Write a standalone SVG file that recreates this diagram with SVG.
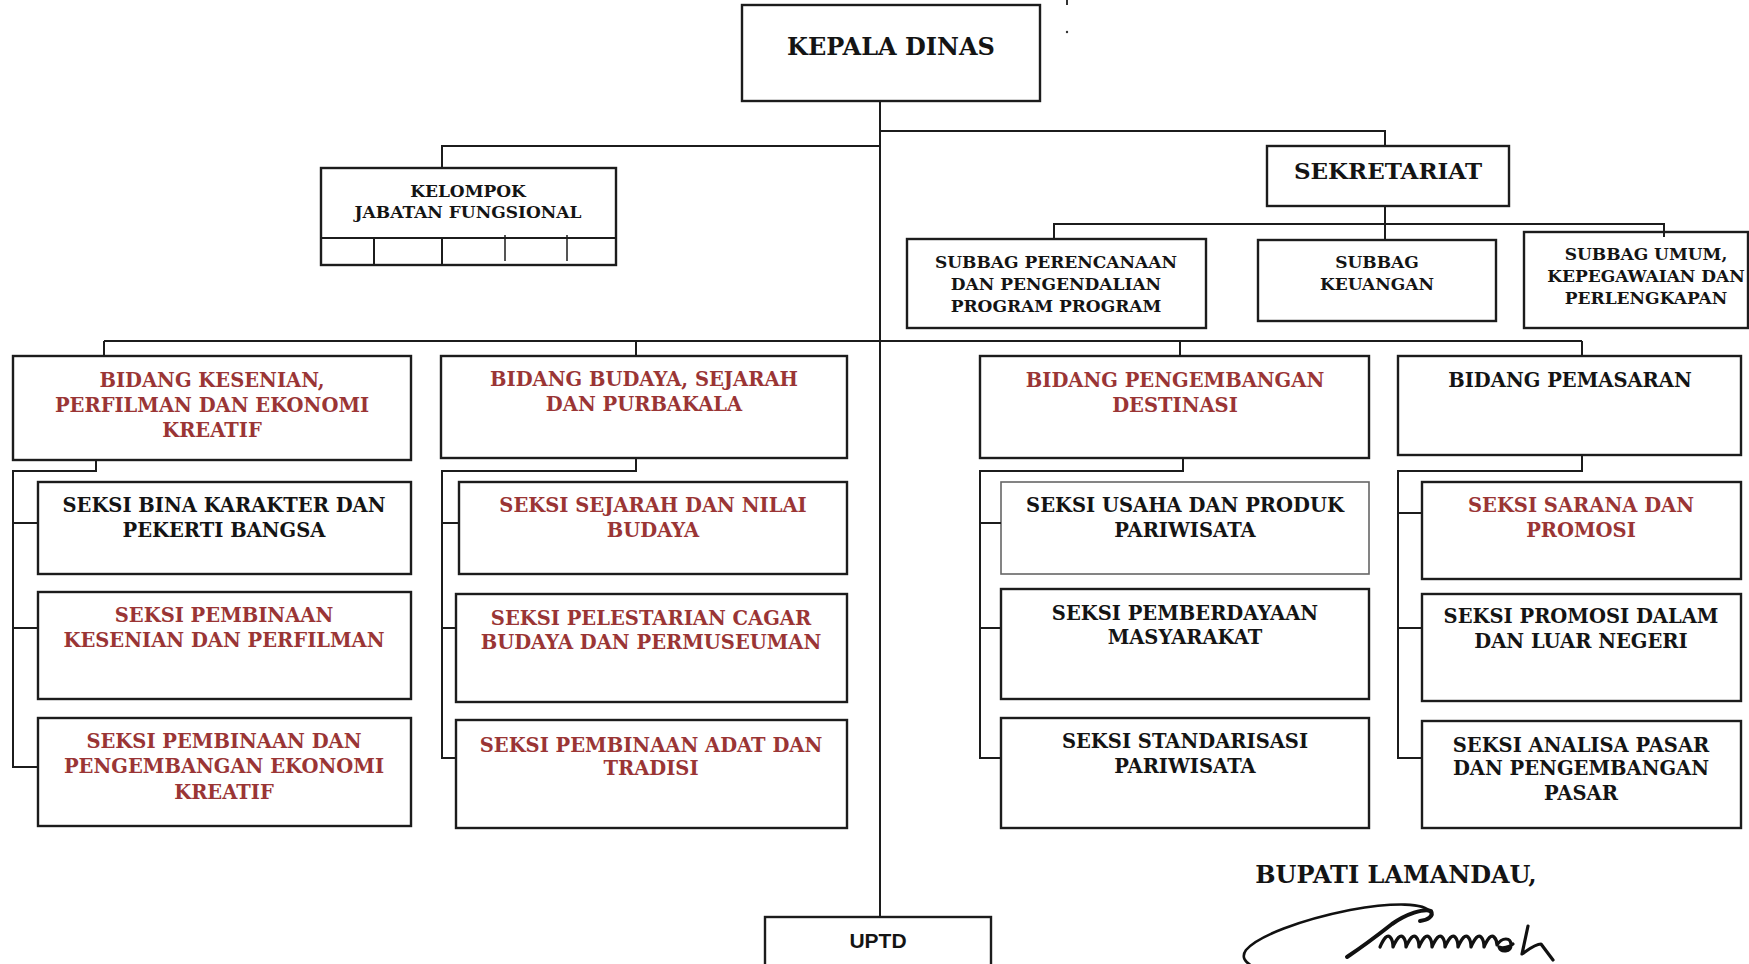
<svg xmlns="http://www.w3.org/2000/svg" width="1749" height="964" viewBox="0 0 1749 964">
  <style>
    .box { fill: #ffffff; stroke: #1c1c1c; stroke-width: 2.4; }
    .thin { fill: #ffffff; stroke: #666666; stroke-width: 1.6; }
    .ln { fill: none; stroke: #1c1c1c; stroke-width: 2; }
    .t { font-family: "DejaVu Serif", "Liberation Serif", serif; font-weight: bold; text-anchor: middle; }
    .s24 { font-size: 24px; }
    .s23 { font-size: 23px; }
    .s20 { font-size: 19.5px; }
    .s17 { font-size: 17px; }
    .red { fill: #9a3535; }
    .blk { fill: #141414; }
    .sans { font-family: "Liberation Sans", Arial, sans-serif; font-weight: bold; font-size: 21px; text-anchor: middle; fill: #141414; }
    .sig { fill: none; stroke: #111111; stroke-linecap: round; stroke-linejoin: round; }
  </style>
  <rect width="1749" height="964" fill="#ffffff"/>

  <!-- stray marks at the top edge -->
  <rect x="1066" y="0" width="2" height="5" fill="#333"/>
  <circle cx="1067" cy="32" r="1.2" fill="#333"/>

  <!-- top level -->
  <g id="kepala-dinas">
    <rect class="box" x="742" y="5" width="298" height="96"/>
    <text class="t s24 blk" x="891" y="55">KEPALA DINAS</text>
  </g>

  <g id="kelompok-jabatan-fungsional">
    <rect class="box" x="321" y="168" width="295" height="97"/>
    <line class="ln" x1="321" y1="238" x2="616" y2="238"/>
    <line class="ln" x1="374" y1="238" x2="374" y2="265"/>
    <line class="ln" x1="442" y1="238" x2="442" y2="265"/>
    <line class="ln" x1="505" y1="235" x2="505" y2="261" style="stroke-width:1.5"/>
    <line class="ln" x1="567" y1="235" x2="567" y2="261" style="stroke-width:1.5"/>
    <text class="t s17 blk" x="468" y="197">KELOMPOK</text>
    <text class="t s17 blk" x="468" y="218">JABATAN FUNGSIONAL</text>
  </g>

  <g id="sekretariat">
    <rect class="box" x="1267" y="146" width="242" height="60"/>
    <text class="t s23 blk" x="1388" y="179">SEKRETARIAT</text>
  </g>

  <g id="subbag-perencanaan">
    <rect class="box" x="907" y="239" width="299" height="89"/>
    <text class="t s17 blk" x="1056" y="268">SUBBAG PERENCANAAN</text>
    <text class="t s17 blk" x="1056" y="290">DAN PENGENDALIAN</text>
    <text class="t s17 blk" x="1056" y="312">PROGRAM PROGRAM</text>
  </g>

  <g id="subbag-keuangan">
    <rect class="box" x="1258" y="240" width="238" height="81"/>
    <text class="t s17 blk" x="1377" y="268">SUBBAG</text>
    <text class="t s17 blk" x="1377" y="290">KEUANGAN</text>
  </g>

  <g id="subbag-umum">
    <rect class="box" x="1524" y="232" width="224" height="96"/>
    <text class="t s17 blk" x="1646" y="260">SUBBAG UMUM,</text>
    <text class="t s17 blk" x="1646" y="282">KEPEGAWAIAN DAN</text>
    <text class="t s17 blk" x="1646" y="304">PERLENGKAPAN</text>
  </g>

  <!-- bidang kesenian column -->
  <g id="bidang-kesenian">
    <rect class="box" x="13" y="356" width="398" height="104"/>
    <text class="t s20 red" x="212" y="387">BIDANG KESENIAN,</text>
    <text class="t s20 red" x="212" y="412">PERFILMAN DAN EKONOMI</text>
    <text class="t s20 red" x="212" y="437">KREATIF</text>
  </g>
  <g id="seksi-bina-karakter">
    <rect class="box" x="38" y="482" width="373" height="92"/>
    <text class="t s20 blk" x="224" y="512">SEKSI BINA KARAKTER DAN</text>
    <text class="t s20 blk" x="224" y="537">PEKERTI BANGSA</text>
  </g>
  <g id="seksi-pembinaan-kesenian">
    <rect class="box" x="38" y="592" width="373" height="107"/>
    <text class="t s20 red" x="224" y="622">SEKSI PEMBINAAN</text>
    <text class="t s20 red" x="224" y="647">KESENIAN DAN PERFILMAN</text>
  </g>
  <g id="seksi-ekonomi-kreatif">
    <rect class="box" x="38" y="718" width="373" height="108"/>
    <text class="t s20 red" x="224" y="748">SEKSI PEMBINAAN DAN</text>
    <text class="t s20 red" x="224" y="773">PENGEMBANGAN EKONOMI</text>
    <text class="t s20 red" x="224" y="799">KREATIF</text>
  </g>

  <!-- bidang budaya column -->
  <g id="bidang-budaya">
    <rect class="box" x="441" y="356" width="406" height="102"/>
    <text class="t s20 red" x="644" y="386">BIDANG BUDAYA, SEJARAH</text>
    <text class="t s20 red" x="644" y="411">DAN PURBAKALA</text>
  </g>
  <g id="seksi-sejarah">
    <rect class="box" x="459" y="482" width="388" height="92"/>
    <text class="t s20 red" x="653" y="512">SEKSI SEJARAH DAN NILAI</text>
    <text class="t s20 red" x="653" y="537">BUDAYA</text>
  </g>
  <g id="seksi-cagar-budaya">
    <rect class="box" x="456" y="594" width="391" height="108"/>
    <text class="t s20 red" x="651" y="625">SEKSI PELESTARIAN CAGAR</text>
    <text class="t s20 red" x="651" y="649">BUDAYA DAN PERMUSEUMAN</text>
  </g>
  <g id="seksi-adat">
    <rect class="box" x="456" y="720" width="391" height="108"/>
    <text class="t s20 red" x="651" y="752">SEKSI PEMBINAAN ADAT DAN</text>
    <text class="t s20 red" x="651" y="775">TRADISI</text>
  </g>

  <!-- bidang destinasi column -->
  <g id="bidang-destinasi">
    <rect class="box" x="980" y="356" width="389" height="102"/>
    <text class="t s20 red" x="1175" y="387">BIDANG PENGEMBANGAN</text>
    <text class="t s20 red" x="1175" y="412">DESTINASI</text>
  </g>
  <g id="seksi-usaha">
    <rect class="thin" x="1001" y="482" width="368" height="92"/>
    <text class="t s20 blk" x="1185" y="512">SEKSI USAHA DAN PRODUK</text>
    <text class="t s20 blk" x="1185" y="537">PARIWISATA</text>
  </g>
  <g id="seksi-pemberdayaan">
    <rect class="box" x="1001" y="589" width="368" height="110"/>
    <text class="t s20 blk" x="1185" y="620">SEKSI PEMBERDAYAAN</text>
    <text class="t s20 blk" x="1185" y="644">MASYARAKAT</text>
  </g>
  <g id="seksi-standarisasi">
    <rect class="box" x="1001" y="718" width="368" height="110"/>
    <text class="t s20 blk" x="1185" y="748">SEKSI STANDARISASI</text>
    <text class="t s20 blk" x="1185" y="773">PARIWISATA</text>
  </g>

  <!-- bidang pemasaran column -->
  <g id="bidang-pemasaran">
    <rect class="box" x="1398" y="356" width="343" height="99"/>
    <text class="t s20 blk" x="1570" y="387">BIDANG PEMASARAN</text>
  </g>
  <g id="seksi-sarana">
    <rect class="box" x="1422" y="482" width="319" height="97"/>
    <text class="t s20 red" x="1581" y="512">SEKSI SARANA DAN</text>
    <text class="t s20 red" x="1581" y="537">PROMOSI</text>
  </g>
  <g id="seksi-promosi">
    <rect class="box" x="1422" y="594" width="319" height="107"/>
    <text class="t s20 blk" x="1581" y="623">SEKSI PROMOSI DALAM</text>
    <text class="t s20 blk" x="1581" y="648">DAN LUAR NEGERI</text>
  </g>
  <g id="seksi-analisa-pasar">
    <rect class="box" x="1422" y="721" width="319" height="107"/>
    <text class="t s20 blk" x="1581" y="752">SEKSI ANALISA PASAR</text>
    <text class="t s20 blk" x="1581" y="775">DAN PENGEMBANGAN</text>
    <text class="t s20 blk" x="1581" y="800">PASAR</text>
  </g>

  <g id="uptd">
    <rect class="box" x="765" y="917" width="226" height="60"/>
    <text class="sans" x="878" y="948">UPTD</text>
  </g>

  <!-- connectors -->
  <g id="connectors">
    <!-- trunk from the head down to UPTD -->
    <line class="ln" x1="880" y1="101" x2="880" y2="917"/>
    <polyline class="ln" points="880,131 1385,131 1385,146"/>
    <polyline class="ln" points="880,146 442,146 442,168"/>
    <!-- secretariat to its subdivisions -->
    <line class="ln" x1="1385" y1="206" x2="1385" y2="240"/>
    <polyline class="ln" points="1054,239 1054,224 1664,224 1664,237"/>
    <!-- bus to the four bidang -->
    <line class="ln" x1="104" y1="341" x2="1582" y2="341"/>
    <line class="ln" x1="104" y1="341" x2="104" y2="356"/>
    <line class="ln" x1="636" y1="341" x2="636" y2="356"/>
    <line class="ln" x1="1180" y1="341" x2="1180" y2="356"/>
    <line class="ln" x1="1582" y1="341" x2="1582" y2="356"/>
    <!-- bidang kesenian to seksi -->
    <polyline class="ln" points="96,460 96,471 13,471 13,767 38,767"/>
    <line class="ln" x1="13" y1="523" x2="38" y2="523"/>
    <line class="ln" x1="13" y1="628" x2="38" y2="628"/>
    <!-- bidang budaya to seksi -->
    <polyline class="ln" points="636,458 636,471 442,471 442,758 456,758"/>
    <line class="ln" x1="442" y1="523" x2="459" y2="523"/>
    <line class="ln" x1="442" y1="628" x2="456" y2="628"/>
    <!-- bidang destinasi to seksi -->
    <polyline class="ln" points="1183,458 1183,471 980,471 980,758 1001,758"/>
    <line class="ln" x1="980" y1="523" x2="1001" y2="523"/>
    <line class="ln" x1="980" y1="628" x2="1001" y2="628"/>
    <!-- bidang pemasaran to seksi -->
    <polyline class="ln" points="1582,455 1582,471 1398,471 1398,758 1422,758"/>
    <line class="ln" x1="1398" y1="513" x2="1422" y2="513"/>
    <line class="ln" x1="1398" y1="628" x2="1422" y2="628"/>
  </g>

  <!-- signature block -->
  <g id="pengesahan">
    <text class="t blk" x="1396" y="883" style="font-size:24px">BUPATI LAMANDAU,</text>
    <path class="sig" stroke-width="2.6" d="M1430,912 C1425,903 1395,902 1350,910 C1300,920 1258,936 1246,950 C1241,957 1245,962 1252,966"/>
    <path class="sig" stroke-width="4" d="M1347,957 C1362,947 1378,935 1392,924 C1406,914 1424,908 1431,911 C1434,916 1428,920 1420,921"/>
    <path class="sig" stroke-width="3.2" d="M1380,947 q6,-14 10,-10 q3,3 3,10 q6,-14 10,-10 q3,3 3,10 q6,-14 10,-10 q3,3 3,10 q6,-14 10,-10 q3,3 3,10 q6,-14 10,-10 q3,3 3,10 q6,-14 10,-10 q3,3 3,10 q6,-14 10,-10 q3,3 3,10 q6,-14 10,-10 q3,3 3,10 q6,-14 10,-10 q3,3 3,8 c5,-8 14,-8 14,0 c0,7 -10,8 -12,2 c4,2 10,0 14,-3"/>
    <path class="sig" stroke-width="3.2" d="M1528,926 l-6,28 c6,-4 13,-10 19,-10 l12,16"/>
  </g>
</svg>
